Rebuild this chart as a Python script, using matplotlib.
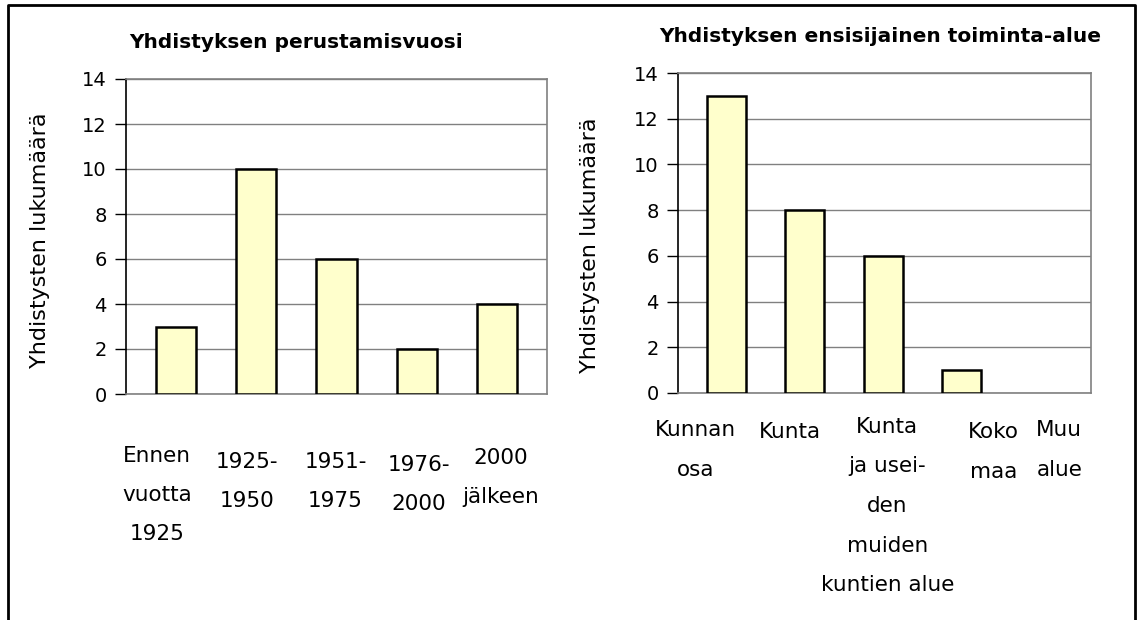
import matplotlib
matplotlib.use("Agg")
import matplotlib.pyplot as plt
from matplotlib.transforms import ScaledTranslation

# ---- data ----
left_title = "Yhdistyksen perustamisvuosi"
left_cats = ["Ennen\nvuotta\n1925", "1925-\n1950", "1951-\n1975", "1976-\n2000", "2000\njälkeen"]
left_vals = [3, 10, 6, 2, 4]

right_title = "Yhdistyksen ensisijainen toiminta-alue"
right_cats = ["Kunnan\nosa", "Kunta", "Kunta\nja usei-\nden\nmuiden\nkuntien alue", "Koko\nmaa", "Muu\nalue"]
right_vals = [13, 8, 6, 1, 0]

ylabel = "Yhdistysten lukumäärä"
yticks = [0, 2, 4, 6, 8, 10, 12, 14]

# ---- layout (pixels) ----
W, H, DPI = 1137, 620, 100
FS_TICK = 14
FS_CAT = 15.5
FS_YLAB = 16
FS_TITLE = 14.5
BAR_FC = "#FFFFCC"
GRID_C = "#808080"

fig = plt.figure(figsize=(W / DPI, H / DPI), dpi=DPI)
plt.rcParams['font.family'] = ['DejaVu Sans']

def px_axes(l, t, r, b):
    return fig.add_axes([l / W, 1 - b / H, (r - l) / W, (b - t) / H])

def setup(ax, cats, vals, xlim, label_dx, label_dy, line_gap):
    ax.set_xlim(*xlim)
    ax.set_ylim(0, 14)
    ax.set_yticks(yticks)
    ax.yaxis.grid(True, color=GRID_C, linewidth=1)
    ax.set_axisbelow(True)
    bars = ax.bar(range(len(vals)), vals, width=0.5, color=BAR_FC, edgecolor="black",
                  linewidth=1.8, zorder=3)
    for b, v in zip(bars, vals):
        if v == 0:
            b.set_visible(False)
    for s in ["top", "right", "bottom"]:
        ax.spines[s].set_color(GRID_C)
        ax.spines[s].set_linewidth(1.2)
    ax.spines["left"].set_color("black")
    ax.spines["left"].set_linewidth(1.2)
    ax.tick_params(axis="y", length=8, width=1, labelsize=FS_TICK, pad=6, direction="out")
    ax.set_xticks([])
    tr = ax.get_xaxis_transform()
    for i, lab in enumerate(cats):
        for k, line in enumerate(lab.split("\n")):
            off = ScaledTranslation(label_dx[i] / DPI, -(label_dy[i] + k * line_gap) / DPI,
                                    fig.dpi_scale_trans)
            ax.text(i, 0, line, transform=tr + off, ha="center", va="center",
                    fontsize=FS_CAT)

axL = px_axes(126, 79, 547, 394)
setup(axL, left_cats, left_vals, (-0.625, 4.625),
      [-19, -9, -1, 2, 4], [62, 68, 68, 71, 64], 39)

axR = px_axes(678, 73, 1091, 393)
setup(axR, right_cats, right_vals, (-0.615, 4.645),
      [-31, -15, 4, 32, 19], [37, 39, 34, 39, 37], 39.5)

# titles and y labels (figure pixel positions)
fig.text(296 / W, 1 - 42 / H, left_title, ha="center", va="center",
         fontsize=FS_TITLE, fontweight="bold")
fig.text(880 / W, 1 - 36 / H, right_title, ha="center", va="center",
         fontsize=FS_TITLE, fontweight="bold")
fig.text(40 / W, 1 - 240 / H, ylabel, rotation=90, ha="center", va="center", fontsize=FS_YLAB)
fig.text(590 / W, 1 - 245 / H, ylabel, rotation=90, ha="center", va="center", fontsize=FS_YLAB)

# outer border (open at the bottom)
fig.add_artist(plt.Line2D([8 / W, 8 / W, 1135 / W, 1135 / W],
                          [0, 1 - 5 / H, 1 - 5 / H, 0],
                          transform=fig.transFigure, color="black", linewidth=2))

fig.savefig("out.png", dpi=DPI)
